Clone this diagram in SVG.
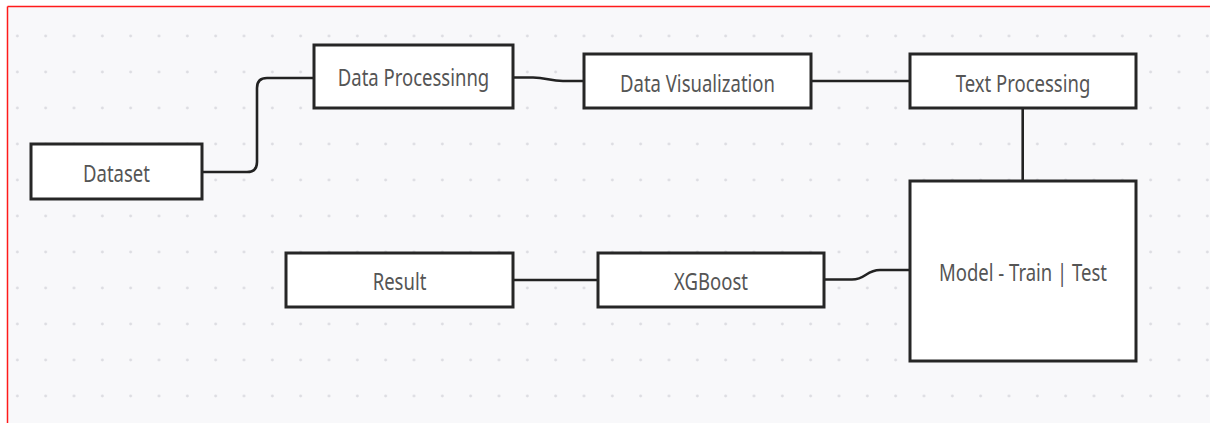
<svg xmlns="http://www.w3.org/2000/svg" width="1210" height="423" viewBox="0 0 1210 423">
  <defs>
    <pattern id="dots" patternUnits="userSpaceOnUse" x="3.17" y="18" width="28.333" height="36">
      <circle cx="14.17" cy="18" r="1.4" fill="#dcdce1"/>
    </pattern>
    <style>
      .box { fill: #ffffff; stroke: #262626; stroke-width: 3; }
      .lbl { font-family: "Noto Sans", "Open Sans", sans-serif; font-size: 18.5px; fill: #555555; text-anchor: middle; }
      .conn { fill: none; stroke: #222222; stroke-width: 2.6; }
    </style>
  </defs>
  <rect x="0" y="0" width="1210" height="423" fill="#ffffff"/>
  <rect x="7" y="7" width="1203" height="416" fill="#f8f8fa"/>
  <rect x="7" y="7" width="1203" height="416" fill="url(#dots)"/>
  <line x1="7.5" y1="6.5" x2="1210" y2="6.5" stroke="#ff1a1a" stroke-width="1.5"/>
  <line x1="7.5" y1="6.5" x2="7.5" y2="423" stroke="#ff1a1a" stroke-width="1.5"/>

  <g id="connectors">
    <path class="conn" d="M202,172 H247 Q257,172 257,162 V88 Q257,78 267,78 H314"/>
    <path class="conn" d="M513,77.5 H533 C546,77.5 550,81 563,81 H584"/>
    <path class="conn" d="M811,81 H910"/>
    <path class="conn" d="M1022.7,108 V181"/>
    <path class="conn" d="M824,279.5 H852 C866,279.5 866,270 880,270 H910"/>
    <path class="conn" d="M513,280 H598"/>
  </g>

  <g id="node-dataset">
    <rect class="box" x="31" y="144" width="171" height="55"/>
    <text class="lbl" transform="translate(116.5,181.5) scale(1,1.3)">Dataset</text>
  </g>
  <g id="node-data-processing">
    <rect class="box" x="314" y="45" width="199" height="63"/>
    <text class="lbl" transform="translate(413.5,86) scale(1,1.3)">Data Processinng</text>
  </g>
  <g id="node-data-visualization">
    <rect class="box" x="584" y="54" width="227" height="54"/>
    <text class="lbl" transform="translate(697.5,91.5) scale(1,1.3)">Data Visualization</text>
  </g>
  <g id="node-text-processing">
    <rect class="box" x="910" y="54" width="226" height="54"/>
    <text class="lbl" transform="translate(1023,91.5) scale(1,1.3)">Text Processing</text>
  </g>
  <g id="node-model">
    <rect class="box" x="910" y="181" width="226" height="180"/>
    <text class="lbl" transform="translate(1023,281) scale(1,1.3)">Model - Train | Test</text>
  </g>
  <g id="node-result">
    <rect class="box" x="286" y="253" width="227" height="54"/>
    <text class="lbl" transform="translate(399.5,290) scale(1,1.3)">Result</text>
  </g>
  <g id="node-xgboost">
    <rect class="box" x="598" y="253" width="226" height="54"/>
    <text class="lbl" transform="translate(711,290) scale(1,1.3)">XGBoost</text>
  </g>
</svg>
